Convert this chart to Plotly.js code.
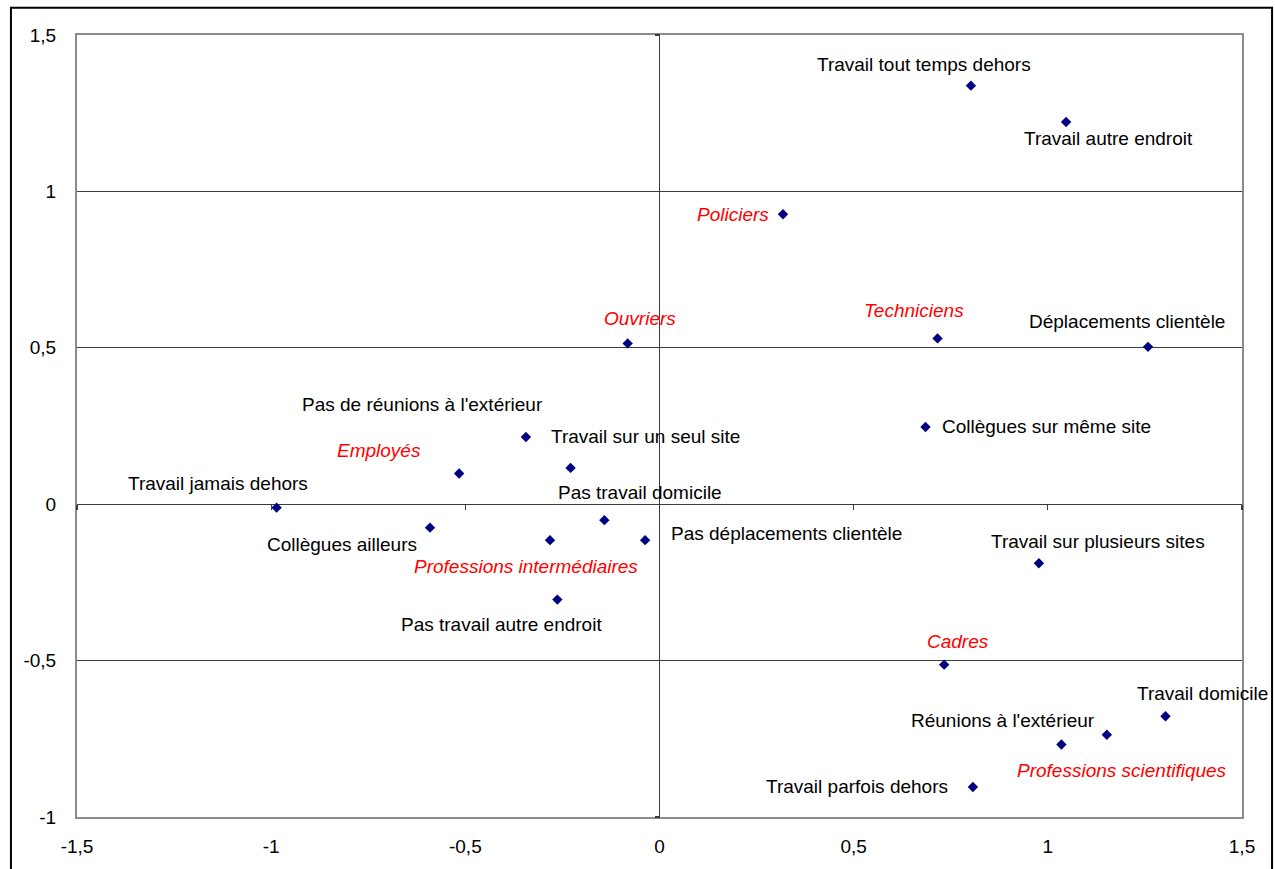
<!DOCTYPE html>
<html>
<head>
<meta charset="utf-8">
<script src="https://cdn.plot.ly/plotly-3.0.1.min.js"></script>
<style>
html,body{margin:0;padding:0;background:#fff;}
#chart{width:1275px;height:869px;}
</style>
</head>
<body>
<div id="chart"></div>
<script>
// Data: modalities (black labels)
const modLabels = [
  "Travail tout temps dehors","Travail autre endroit","Déplacements clientèle",
  "Collègues sur même site","Pas de réunions à l'extérieur","Travail sur un seul site",
  "Travail jamais dehors","Collègues ailleurs","Pas travail domicile",
  "Pas déplacements clientèle","Pas travail autre endroit","Travail sur plusieurs sites",
  "Travail domicile","Réunions à l'extérieur","Travail parfois dehors"
];
const modX = [0.802, 1.047, 1.258, 0.685, -0.344, -0.229, -0.986, -0.591, -0.142, -0.037, -0.263, 0.977, 1.303, 1.035, 0.807];
const modY = [1.338, 1.222, 0.503, 0.247, 0.215, 0.116, -0.011, -0.075, -0.051, -0.115, -0.305, -0.189, -0.678, -0.768, -0.904];

// Data: professions (red italic labels)
const profLabels = ["Policiers","Ouvriers","Techniciens","Employés","Professions intermédiaires","Cadres","Professions scientifiques"];
const profX = [0.318, -0.082, 0.716, -0.516, -0.282, 0.733, 1.152];
const profY = [0.927, 0.514, 0.530, 0.098, -0.115, -0.513, -0.737];

// Axis ticks
const xTickVals = [-1.5, -1, -0.5, 0, 0.5, 1, 1.5];
const xTickText = ["-1,5", "-1", "-0,5", "0", "0,5", "1", "1,5"];
const yTickVals = [-1, -0.5, 0, 0.5, 1, 1.5];
const yTickText = ["-1", "-0,5", "0", "0,5", "1", "1,5"];

// Label offsets (style: pixel shifts of each label relative to its point)
const modShift = [[-47,21],[42,-17],[-21,25],[121,0],[-103,32],[75,31],[-59,24],[-88,-17],[36,28],[141,7],[-56,-25],[59,22],[37,23],[-58,24],[-116,0]];
const profShift = [[-50,0],[12,25],[-24,28],[-80,23],[-24,-26],[14,23],[15,-36]];

const FONT = "Liberation Sans, Arial, sans-serif";
const FS = 19;
const GRID = "#3c3c3c";

const annotations = [];
modLabels.forEach((t,i)=>{
  annotations.push({x:modX[i], y:modY[i], xref:'x', yref:'y', text:t, showarrow:false,
    xanchor:'center', yanchor:'middle', xshift:modShift[i][0], yshift:modShift[i][1],
    font:{family:FONT, size:FS, color:'#000'}});
});
profLabels.forEach((t,i)=>{
  annotations.push({x:profX[i], y:profY[i], xref:'x', yref:'y', text:'<i>'+t+'</i>', showarrow:false,
    xanchor:'center', yanchor:'middle', xshift:profShift[i][0], yshift:profShift[i][1],
    font:{family:FONT, size:FS, color:'#ff0000'}});
});

const traces = [
  {x:modX.concat(profX), y:modY.concat(profY), type:'scatter', mode:'markers',
   marker:{symbol:'diamond', size:8, color:'#000080'}, hoverinfo:'skip', showlegend:false, cliponaxis:false},
  {x:[null], y:[null], xaxis:'x2', yaxis:'y2', type:'scatter', mode:'markers', showlegend:false, hoverinfo:'skip'}
];

const layout = {
  width:1275, height:869,
  margin:{l:77, r:33, t:35, b:52},
  paper_bgcolor:'#fff', plot_bgcolor:'#fff',
  font:{family:FONT, size:FS, color:'#000'},
  showlegend:false,
  xaxis:{range:[-1.5,1.5], tickvals:xTickVals, ticktext:xTickText, showgrid:false,
    zeroline:true, zerolinecolor:GRID, zerolinewidth:1.5,
    showline:true, mirror:true, linecolor:'#8c8c8c', linewidth:2, ticks:'',
    ticklabelstandoff:11, tickfont:{family:FONT, size:FS, color:'#000'}, fixedrange:true},
  yaxis:{range:[-1,1.5], tickvals:yTickVals, ticktext:yTickText, showgrid:true, gridcolor:GRID, gridwidth:1.2,
    zeroline:true, zerolinecolor:GRID, zerolinewidth:1.2,
    showline:true, mirror:true, linecolor:'#8c8c8c', linewidth:2, ticks:'',
    ticklabelstandoff:15, tickfont:{family:FONT, size:FS, color:'#000'}, fixedrange:true},
  xaxis2:{range:[-1.5,1.5], overlaying:'x', anchor:'free', position:0.4, tickvals:xTickVals,
    ticks:'outside', ticklen:5, tickcolor:GRID, tickwidth:1.2, showticklabels:false,
    showgrid:false, zeroline:false, showline:false, fixedrange:true},
  yaxis2:{range:[-1,1.5], overlaying:'y', anchor:'free', position:0.5, tickvals:yTickVals,
    ticks:'outside', ticklen:5, tickcolor:GRID, tickwidth:1.2, showticklabels:false,
    showgrid:false, zeroline:false, showline:false, fixedrange:true},
  annotations:annotations,
  shapes:[{type:'rect', xref:'paper', yref:'paper', x0:-0.0567, x1:1.0258, y0:-0.08, y1:1.035,
    line:{color:'#000', width:2}, fillcolor:'rgba(0,0,0,0)', layer:'below'}]
};

Plotly.newPlot('chart', traces, layout, {displayModeBar:false, staticPlot:true});
</script>
</body>
</html>
